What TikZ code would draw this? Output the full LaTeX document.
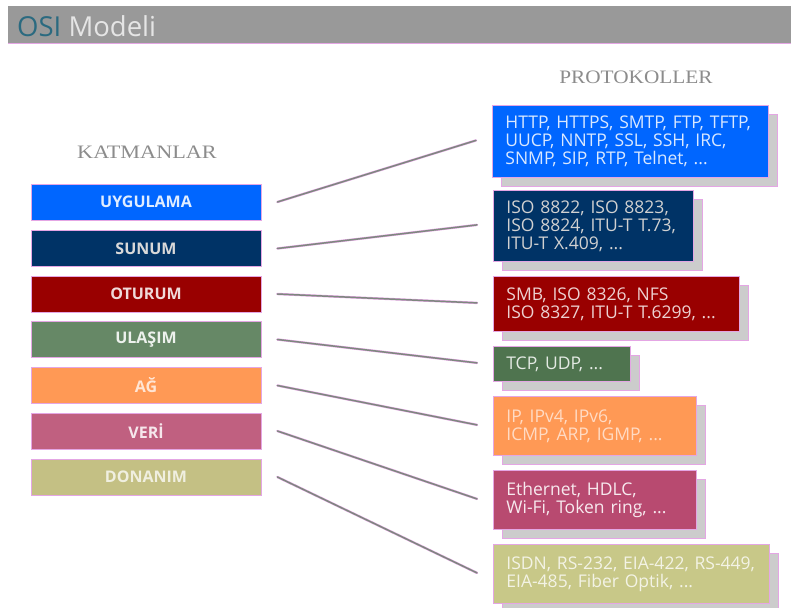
\documentclass[tikz,border=0pt]{standalone}
\usepackage{fontspec}
\usepackage{graphicx}
\setmainfont{Open Sans}
\newfontfamily\capsfont{Liberation Serif}
\usetikzlibrary{shadows}
\definecolor{bargray}{HTML}{999999}
\definecolor{pinkline}{HTML}{E4A6E4}
\definecolor{osiblue}{HTML}{2B6A80}
\definecolor{capgray}{HTML}{8C8C8C}
\definecolor{shadowgray}{HTML}{CCCCCC}
\definecolor{linegray}{HTML}{7E887F}
\definecolor{cA}{HTML}{0066FF}
\definecolor{cB}{HTML}{003366}
\definecolor{cC}{HTML}{990000}
\definecolor{cD}{HTML}{668866}
\definecolor{cDp}{HTML}{4F744F}
\definecolor{cE}{HTML}{FF9955}
\definecolor{cF}{HTML}{C06080}
\definecolor{cFp}{HTML}{B84A70}
\definecolor{cG}{HTML}{C4C084}
\definecolor{cGp}{HTML}{C8C888}
\begin{document}
\begin{tikzpicture}[x=1pt,y=-1pt,
  layer/.style={draw=pinkline, line width=0.8pt, minimum width=230pt, minimum height=36pt,
    inner sep=0pt, font=\bfseries\fontsize{16}{18}\selectfont},
  proto/.style={draw=pinkline, line width=0.8pt, anchor=north west, inner xsep=13pt, inner ysep=0pt,
    align=left, font=\fontsize{17.5}{18}\selectfont,
    drop shadow={shadow xshift=9pt, shadow yshift=-9pt, fill=shadowgray, draw=pinkline, opacity=1}},
  link/.style={draw=pinkline, line width=2.4pt, line cap=round,
    postaction={draw=linegray, line width=1.5pt, line cap=round}},
  heading/.style={font=\capsfont\fontsize{19}{22}\selectfont, text=capgray}
]
\useasboundingbox (0,0) rectangle (791,607);
% header bar
\fill[bargray] (8,6) rectangle (791,43);
\draw[pinkline, line width=1.5pt] (8,43.5) -- (791,43.5);
\node[anchor=base west, inner sep=0pt, font=\fontsize{27.5}{29}\selectfont] (title) at (17,37)
  {\textcolor{osiblue}{OSI} \textcolor{white!90!black}{Modeli}};
% headings
\node[heading] (kat) at (147,152) {\scalebox{1.17}[1]{KATMANLAR}};
\node[heading] (pro) at (636,77) {\scalebox{1.12}[1]{PROTOKOLLER}};
% layers
\node[layer, fill=cA, text=white!88!cA] (L1) at (146,202) {UYGULAMA};
\node[layer, fill=cB, text=white!85!black] (L2) at (146,248.5) {SUNUM};
\node[layer, fill=cC, text=white!85!cC] (L3) at (146,294) {OTURUM};
\node[layer, fill=cD, text=white!88!cD] (L4) at (146,339.5) {ULAŞIM};
\node[layer, fill=cE, text=white!75!cE] (L5) at (146,385.5) {AĞ};
\node[layer, fill=cF, text=white!85!cF] (L6) at (146,431) {VERİ};
\node[layer, fill=cG, text=white!75!cG] (L7) at (146,477) {DONANIM};
% protocols
\node[proto, fill=cA, text=white!85!cA, text width=250pt, minimum height=72pt] (P1) at (492,105)
  {HTTP, HTTPS, SMTP, FTP, TFTP,\\UUCP, NNTP, SSL, SSH, IRC,\\SNMP, SIP, RTP, Telnet, ...};
\node[proto, fill=cB, text=white!82!black, text width=174pt, minimum height=71pt] (P2) at (493,190)
  {ISO 8822, ISO 8823,\\ISO 8824, ITU-T T.73,\\ITU-T X.409, ...};
\node[proto, fill=cC, text=white!82!cC, text width=220pt, minimum height=55pt] (P3) at (493,276)
  {SMB, ISO 8326, NFS\\ISO 8327, ITU-T T.6299, ...};
\node[proto, fill=cDp, text=white!85!cDp, text width=111pt, minimum height=35pt] (P4) at (493,346)
  {TCP, UDP, ...};
\node[proto, fill=cE, text=white!65!cE, text width=177pt, minimum height=59pt] (P5) at (493,396)
  {IP, IPv4, IPv6,\\ICMP, ARP, IGMP, ...};
\node[proto, fill=cFp, text=white!88!cFp, text width=177pt, minimum height=59pt] (P6) at (493,470)
  {Ethernet, HDLC,\\Wi-Fi, Token ring, ...};
\node[proto, fill=cGp, text=white!78!cGp, text width=250pt, minimum height=59pt] (P7) at (493,544)
  {ISDN, RS-232, EIA-422, RS-449,\\EIA-485, Fiber Optik, ...};
% connectors
\foreach \i in {1,...,7}{
  \path[link] ([xshift=16pt]L\i.east) -- ([xshift=-16pt,yshift=1pt]P\i.west);
}
\end{tikzpicture}
\end{document}
